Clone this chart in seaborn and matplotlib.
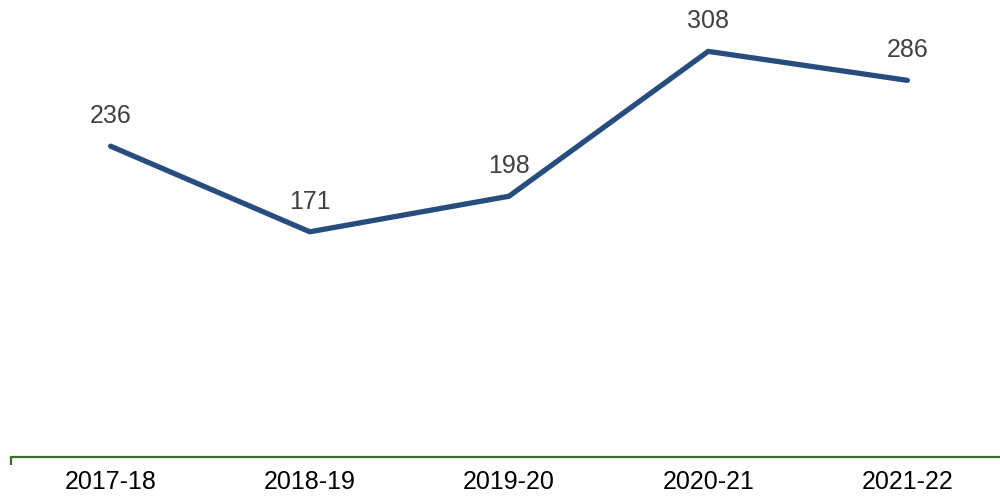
import matplotlib
matplotlib.use("Agg")
import matplotlib.pyplot as plt
import seaborn as sns
import pandas as pd

# chart values
years = ["2017-18", "2018-19", "2019-20", "2020-21", "2021-22"]
counts = [236, 171, 198, 308, 286]

df = pd.DataFrame({"year": years, "count": counts})

sns.set_style("white")
plt.rcParams['font.family'] = ['Liberation Sans', 'DejaVu Sans']

fig = plt.figure(figsize=(10, 4.98), dpi=100)
ax = fig.add_axes([0.011, 0.0823, 0.996, 0.9177])

sns.lineplot(x='year', y='count', data=df, ax=ax, color='#264D7E',
             linewidth=3.8, sort=False)

# value labels above each point
for i, v in enumerate(counts):
    ax.annotate(str(v), (i, v), xytext=(0, 13), textcoords='offset points',
                ha='center', va='bottom', fontsize=18, color='#404040')

ax.set_xlim(-0.5, 4.5)
ax.set_ylim(0, 347)
ax.set_xlabel('')
ax.set_ylabel('')
ax.set_yticks([])

for s in ['top', 'right', 'left']:
    ax.spines[s].set_visible(False)
ax.spines['bottom'].set_color('#3B6E2E')
ax.spines['bottom'].set_linewidth(1.6)

ax.tick_params(axis='x', which='major', bottom=False, length=0, labelsize=18, pad=9, labelcolor='black')
ax.set_xticks([-0.5], minor=True)
ax.tick_params(axis='x', which='minor', bottom=True, length=6, width=1.6, color='#3B6E2E')

plt.savefig('out.png', dpi=100)
